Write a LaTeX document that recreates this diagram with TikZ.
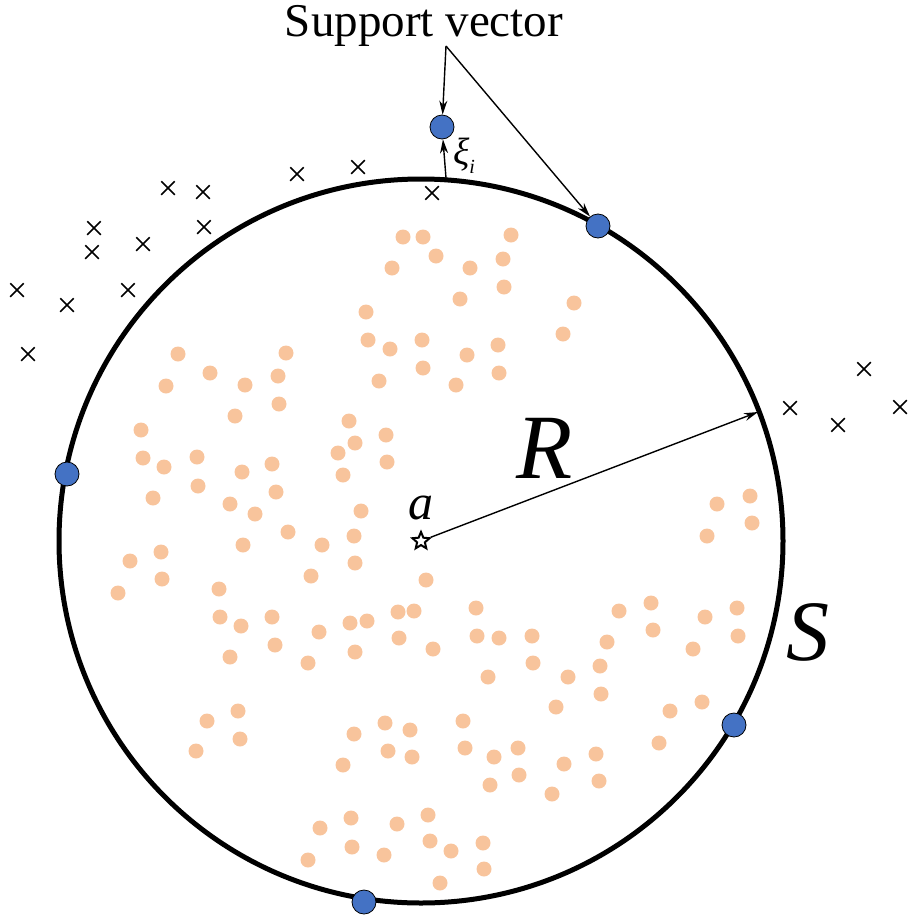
\documentclass[tikz,border=0pt]{standalone}
\usepackage{fontspec}
\setmainfont{Liberation Serif}
\usetikzlibrary{shapes.geometric,shapes.misc,arrows.meta}
\definecolor{dotor}{RGB}{248,196,156}
\definecolor{svblue}{RGB}{68,114,196}
\tikzset{
 od/.style={circle,fill=dotor,inner sep=0,minimum size=15pt},
 sv/.style={circle,fill=svblue,draw=black,line width=0.8pt,inner sep=0,minimum size=24pt},
 cr/.style={cross out,draw=black,line width=1.5pt,inner sep=0,minimum size=12pt},
 arr/.style={-{Stealth[length=14pt,width=8pt]},line width=1.4pt}
}
\begin{document}
\begin{tikzpicture}[x=1pt,y=-1pt]
\useasboundingbox (0,0) rectangle (917,924);
\foreach \x/\y in {403/237,423/237,511/235,436/256,392/268,470/268,503/259,504/287,460/299,574/303,366/312,563/334,368/340,390/349,422/340,467/355,498/345,178/354,286/353,423/368,379/381,456/385,499/373,210/373,166/386,245/385,278/376,279/404,235/416,349/421,141/430,386/435,355/443,338/453,387/462,143/458,164/467,197/457,242/472,272/464,343/475,198/486,276/492,153/498,230/504,255/514,361/511,288/532,322/545,243/545,354/536,717/504,750/496,752/523,707/536,130/561,161/552,162/579,118/593,355/563,311/576,426/580,219/589,220/617,241/626,272/617,275/645,230/657,308/663,319/632,350/623,367/621,355/652,398/612,414/611,399/638,433/649,476/608,477/636,499/638,532/636,533/663,488/677,619/611,651/603,653/630,607/642,600/666,568/677,601/694,556/707,705/617,737/608,738/636,693/649,670/711,702/702,659/743,207/721,238/711,240/739,196/751,385/723,354/734,410/730,463/721,388/751,343/765,412/757,465/748,494/757,518/748,519/775,490/785,564/764,596/754,599/781,552/794,320/828,351/818,397/824,428/815,352/847,384/855,430/841,451/851,483/843,308/860,484/869,440/883}
  \node[od] at (\x,\y) {};
\draw[line width=5pt] (421,541) circle (362);
\foreach \x/\y in {17/290,67/305,28/354,94/228,92/252,143/244,128/290,168/188,203/192,204/227,297/174,358/167,432/193,790/408,838/425,864/369,900/407}
  \node[cr] at (\x,\y) {};
\node[sv] (s1) at (442,127) {};
\node[sv] (s2) at (598,226) {};
\node[sv] (s3) at (67,474) {};
\node[sv] (s4) at (734,725) {};
\node[sv] (s5) at (364,902) {};
\node[star,star points=5,draw=black,line width=2pt,inner sep=0,minimum size=18pt,star point ratio=2.2] (a) at (421,541) {};
\node[font=\itshape\fontsize{50}{50}\selectfont] (al) at (421,508) {a};
\coordinate (rend) at (758,412);
\draw[arr] (a) -- (rend);
\node[font=\itshape\fontsize{92}{92}\selectfont] (R) at (545,448) {R};
\node[font=\itshape\fontsize{86}{86}\selectfont] (S) at (808,632) {S};
\node[font=\fontsize{47}{47}\selectfont] (sv) at (424,26) {Support vector};
\coordinate (sp) at (446,46);
\draw[arr] (sp) -- (s1);
\draw[arr] (sp) -- (s2);
\coordinate (xb) at (446,178);
\draw[arr] (xb) -- (s1);
\node[font=\itshape\fontsize{38}{38}\selectfont,anchor=west,inner sep=0] (xi) at (453,156) {ξ\raisebox{-9pt}{\fontsize{20}{20}\selectfont i}};
\end{tikzpicture}
\end{document}
